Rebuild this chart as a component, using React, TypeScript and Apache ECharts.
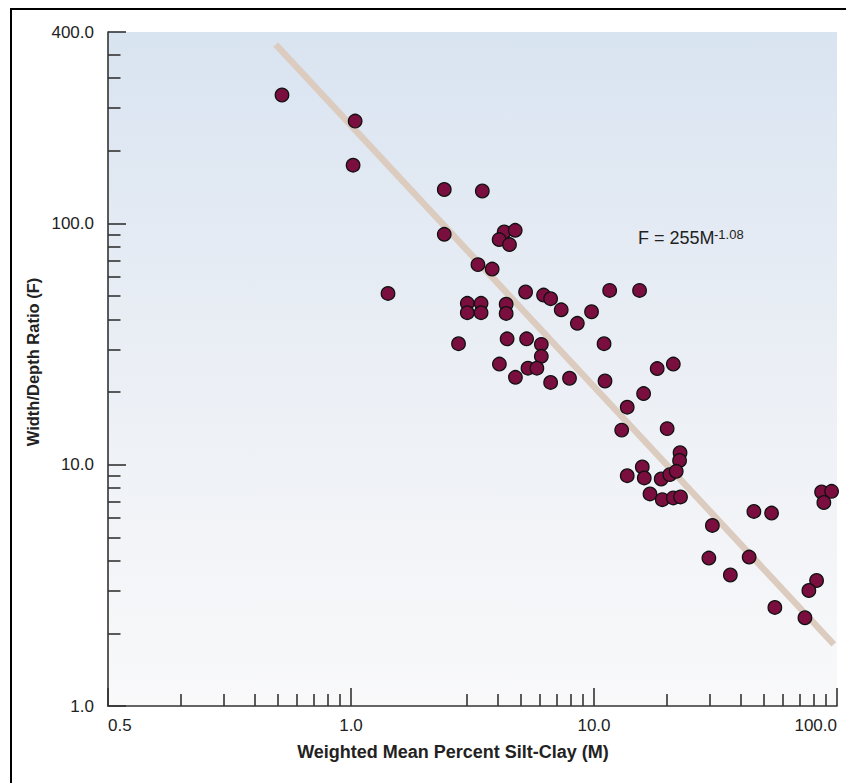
import React, { useEffect, useRef } from "react";
import * as echarts from "echarts";

// Weighted mean percent silt-clay (M)
const siltClay = [
  0.52, 1.04, 1.02, 2.42, 3.47, 2.42, 4.27, 4.74, 4.07, 4.49,
  3.33, 3.81, 1.42, 5.23, 6.2, 6.63, 7.33, 8.54, 3.01, 3.43,
  3.01, 3.43, 4.35, 4.35, 2.77, 4.39, 5.28, 6.07, 6.07, 4.08,
  5.35, 5.82, 4.75, 6.63, 7.93, 9.77, 11.6, 15.4, 11.0, 11.1,
  18.2, 21.2, 16.0, 13.7, 13.0, 20.0, 22.6, 22.5, 15.8, 16.1,
  13.7, 18.9, 20.5, 21.8, 17.0, 19.1, 21.2, 22.7, 45.5, 53.8,
  30.7, 29.7, 43.5, 36.4, 82.4, 76.6, 55.5, 73.8, 86.4, 95.0,
  88.3,
];
// Width/depth ratio (F)
const widthDepth = [
  340, 265, 174, 138, 136, 90, 92, 93.5, 85.6, 81.6,
  67.4, 64.6, 51.2, 51.9, 50.4, 48.7, 43.8, 38.5, 46.6, 46.6,
  42.6, 42.6, 46.2, 42.3, 31.7, 33.2, 33.2, 31.5, 28.1, 26.1,
  25.1, 25.1, 23.0, 21.9, 22.8, 43.0, 52.7, 52.7, 31.7, 22.2,
  25.0, 26.1, 19.7, 17.3, 13.9, 14.1, 11.2, 10.4, 9.78, 8.81,
  9.0, 8.72, 9.09, 9.38, 7.56, 7.16, 7.28, 7.35, 6.4, 6.3,
  5.6, 4.1, 4.14, 3.49, 3.31, 3.01, 2.56, 2.32, 7.7, 7.75,
  6.97,
];

// Fitted line F = 255 M^-1.08, end points
const fitM = [0.49, 97];
const fitF = [550, 1.8];

const xMajorTicks = [0.1, 1, 10, 100];
const xTickLabels = ["0.5", "1.0", "10.0", "100.0"];
const xMinorTicks = [0.2, 0.3, 0.4, 0.5, 0.6, 0.7, 0.8, 0.9, 3, 4, 5, 6, 7, 8, 9, 20, 30, 40, 50, 60, 70, 80, 90];

const yMajorTicks = [1, 10, 100, 620];
const yTickLabels = ["1.0", "10.0", "100.0", "400.0"];
const yMinorTicks = [2, 3, 4, 5, 6, 7, 8, 9, 20, 30, 40, 50, 60, 70, 80, 90, 200, 300, 400, 500];

const FONT = "'Liberation Sans', Arial, Helvetica, sans-serif";
const AXIS_COLOR = "#333333";

function labelFor(ticks: number[], labels: string[]) {
  return (v: number) => {
    const i = ticks.findIndex((t) => Math.abs(Math.log10(t) - Math.log10(v)) < 1e-4);
    return i >= 0 ? labels[i] : "";
  };
}

export default function App() {
  const ref = useRef<HTMLDivElement>(null);

  useEffect(() => {
    if (!ref.current) return;
    const chart = echarts.init(ref.current, undefined, { renderer: "svg" });
    const points = siltClay.map((m, i) => [m, widthDepth[i]]);
    const fit = fitM.map((m, i) => [m, fitF[i]]);

    const lineStyle = { color: AXIS_COLOR, width: 1.6 };
    const labelStyle = { color: "#222", fontSize: 17, fontFamily: FONT };

    chart.setOption({
      animation: false,
      backgroundColor: "#ffffff",
      grid: {
        left: 108,
        right: 9,
        top: 32,
        bottom: 77,
        show: true,
        borderWidth: 0,
        outerBoundsMode: "none",
        backgroundColor: new echarts.graphic.LinearGradient(0, 0, 0, 1, [
          { offset: 0, color: "#d9e4f1" },
          { offset: 0.5, color: "#ebeff5" },
          { offset: 1, color: "#f9f9fa" },
        ]),
      },
      xAxis: [
        {
          type: "log",
          min: 0.1,
          max: 100,
          position: "bottom",
          axisLine: { show: true, lineStyle },
          axisTick: { show: true, inside: true, length: 12, customValues: xMinorTicks, lineStyle },
          axisLabel: {
            show: true,
            customValues: xMajorTicks,
            formatter: labelFor(xMajorTicks, xTickLabels),
            alignMinLabel: "left",
            alignMaxLabel: "right",
            margin: 11,
            ...labelStyle,
          },
          splitLine: { show: false },
          minorTick: { show: false },
        },
        {
          type: "log",
          min: 0.1,
          max: 100,
          position: "bottom",
          axisLine: { show: false },
          axisTick: { show: true, inside: true, length: 18, customValues: xMajorTicks, lineStyle },
          axisLabel: { show: false },
          splitLine: { show: false },
        },
      ],
      yAxis: [
        {
          type: "log",
          min: 1,
          max: 620,
          position: "left",
          axisLine: { show: true, lineStyle },
          axisTick: { show: true, inside: true, length: 12.5, customValues: yMinorTicks, lineStyle },
          axisLabel: {
            show: true,
            customValues: yMajorTicks,
            formatter: labelFor(yMajorTicks, yTickLabels),
            margin: 14,
            ...labelStyle,
          },
          splitLine: { show: false },
          minorTick: { show: false },
        },
        {
          type: "log",
          min: 1,
          max: 620,
          position: "left",
          axisLine: { show: false },
          axisTick: { show: true, inside: true, length: 18, customValues: yMajorTicks, lineStyle },
          axisLabel: { show: false },
          splitLine: { show: false },
        },
      ],
      series: [
        {
          type: "line",
          data: fit,
          symbol: "none",
          silent: true,
          lineStyle: { color: "#dccbbf", width: 6.5 },
          z: 2,
        },
        {
          type: "scatter",
          data: points,
          symbol: "circle",
          symbolSize: 13.5,
          itemStyle: { color: "#7a0f3f", borderColor: "#111", borderWidth: 1.3, opacity: 1 },
          z: 3,
        },
      ],
      graphic: [
        {
          type: "rect",
          shape: { x: 11, y: 9, width: 1000, height: 1000 },
          style: { fill: "none", stroke: "#000", lineWidth: 2 },
          silent: true,
        },
        {
          type: "text",
          x: 453,
          y: 752,
          style: {
            text: "Weighted Mean Percent Silt-Clay (M)",
            fontSize: 18,
            fontWeight: "bold",
            fontFamily: FONT,
            fill: "#222",
            align: "center",
            verticalAlign: "middle",
          },
        },
        {
          type: "text",
          x: 33,
          y: 362,
          rotation: Math.PI / 2,
          style: {
            text: "Width/Depth Ratio (F)",
            fontSize: 16.5,
            fontWeight: "bold",
            fontFamily: FONT,
            fill: "#222",
            align: "center",
            verticalAlign: "middle",
          },
        },
        {
          type: "text",
          x: 638,
          y: 238,
          style: {
            text: "F = 255M",
            fontSize: 18,
            fontFamily: FONT,
            fill: "#222",
            align: "left",
            verticalAlign: "middle",
          },
        },
        {
          type: "text",
          x: 714,
          y: 234,
          style: {
            text: "-1.08",
            fontSize: 13,
            fontFamily: FONT,
            fill: "#222",
            align: "left",
            verticalAlign: "middle",
          },
        },
      ],
    });

    return () => chart.dispose();
  }, []);

  return (
    <div
      ref={ref}
      style={{ position: "absolute", left: 0, top: 0, width: 846, height: 783 }}
    />
  );
}
